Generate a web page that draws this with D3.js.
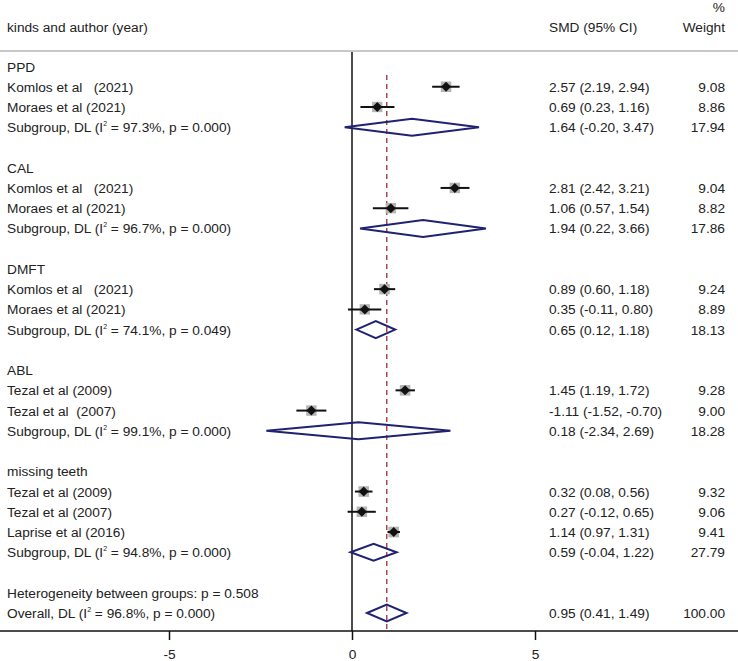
<!DOCTYPE html>
<html>
<head>
<meta charset="utf-8">
<script src="https://cdn.jsdelivr.net/npm/d3@7"></script>
<style>
  body { margin: 0; background: #fff; }
  text { font-family: "Liberation Sans", Arial, sans-serif; font-size: 13.7px; fill: #222; }
</style>
</head>
<body>
<div id="chart"></div>
<script>
// rows of the forest plot, top to bottom
const labels = [
  "PPD", "Komlos et al   (2021)", "Moraes et al (2021)", "Subgroup",
  "",
  "CAL", "Komlos et al   (2021)", "Moraes et al (2021)", "Subgroup",
  "",
  "DMFT", "Komlos et al   (2021)", "Moraes et al (2021)", "Subgroup",
  "",
  "ABL", "Tezal et al (2009)", "Tezal et al  (2007)", "Subgroup",
  "",
  "missing teeth", "Tezal et al (2009)", "Tezal et al (2007)", "Laprise et al (2016)", "Subgroup",
  "",
  "Heterogeneity between groups: p = 0.508", "Overall"
];
// row type: h = heading, s = study, d = subgroup diamond, o = overall diamond, t = text only
const kinds = ["h","s","s","d","t","h","s","s","d","t","h","s","s","d","t","h","s","s","d","t","h","s","s","s","d","t","t","o"];
const smd   = [null,2.57,0.69,1.64,null,null,2.81,1.06,1.94,null,null,0.89,0.35,0.65,null,null,1.45,-1.11,0.18,null,null,0.32,0.27,1.14,0.59,null,null,0.95];
const lower = [null,2.19,0.23,-0.20,null,null,2.42,0.57,0.22,null,null,0.60,-0.11,0.12,null,null,1.19,-1.52,-2.34,null,null,0.08,-0.12,0.97,-0.04,null,null,0.41];
const upper = [null,2.94,1.16,3.47,null,null,3.21,1.54,3.66,null,null,1.18,0.80,1.18,null,null,1.72,-0.70,2.69,null,null,0.56,0.65,1.31,1.22,null,null,1.49];
const weight = [null,9.08,8.86,17.94,null,null,9.04,8.82,17.86,null,null,9.24,8.89,18.13,null,null,9.28,9.00,18.28,null,null,9.32,9.06,9.41,27.79,null,null,100.00];
const i2    = [null,null,null,"97.3",null,null,null,null,"96.7",null,null,null,null,"74.1",null,null,null,null,"99.1",null,null,null,null,null,"94.8",null,null,"96.8"];
const pval  = [null,null,null,"0.000",null,null,null,null,"0.000",null,null,null,null,"0.049",null,null,null,null,"0.000",null,null,null,null,null,"0.000",null,null,"0.000"];
const xTicks = [-5, 0, 5];
const overallEffect = 0.95;

const width = 738, height = 661;
const rowTop = 66.5, rowStep = 20.24;
const headerLineY = 51;
const axisY = 631;

const svg = d3.select("#chart").append("svg")
    .attr("width", width)
    .attr("height", height);

const data = labels.map(function(l, i) {
  return {label: l, kind: kinds[i], est: smd[i], lo: lower[i], hi: upper[i], w: weight[i], i2: i2[i], p: pval[i]};
});

const xScale = d3.scaleLinear().domain([-5, 5]).range([169, 535]);
const yScale = d3.scaleLinear().domain([0, 1]).range([rowTop, rowTop + rowStep]);
const boxScale = d3.scaleSqrt().domain([0, 10]).range([0, 11]);

// plain hyphen for negatives, like the original
const f2 = function(v) { return v.toFixed(2); };

// header
svg.append("text").attr("x", 7).attr("y", 32).text("kinds and author (year)");
svg.append("text").attr("x", 549).attr("y", 32).text("SMD (95% CI)");
svg.append("text").attr("x", 725).attr("y", 12).attr("text-anchor", "end").text("%");
svg.append("text").attr("x", 725).attr("y", 32).attr("text-anchor", "end").text("Weight");
svg.append("line")
    .attr("x1", 0).attr("x2", width).attr("y1", headerLineY).attr("y2", headerLineY)
    .attr("stroke", "#c8c8c8").attr("stroke-width", 2);

// null line and overall line
svg.append("line")
    .attr("x1", xScale(0)).attr("x2", xScale(0)).attr("y1", headerLineY + 1).attr("y2", axisY)
    .attr("stroke", "#111").attr("stroke-width", 1.5);
svg.append("line")
    .attr("x1", xScale(overallEffect)).attr("x2", xScale(overallEffect)).attr("y1", 75).attr("y2", axisY)
    .attr("stroke", "#9b2d3c").attr("stroke-width", 1.3).attr("stroke-dasharray", "5,4");

// axis
const axis = svg.append("g")
    .attr("transform", `translate(0,${axisY})`)
    .call(d3.axisBottom(xScale).tickValues(xTicks).tickSize(9).tickPadding(9)
      .tickFormat(function(d) { return String(d); }));
axis.select(".domain").remove();
axis.selectAll(".tick line").attr("stroke", "#111").attr("stroke-width", 1.5);
axis.selectAll(".tick text").style("font-family", "Liberation Sans, Arial, sans-serif").style("font-size", "13.7px").attr("fill", "#222");
svg.append("line")
    .attr("x1", 0).attr("x2", width).attr("y1", axisY).attr("y2", axisY)
    .attr("stroke", "#111").attr("stroke-width", 1.5);

const rows = svg.selectAll("g.row")
  .data(data)
  .enter()
  .append("g")
    .attr("class", "row")
    .attr("transform", function(d, i) { return `translate(0,${yScale(i)})`; });

// left labels
const lbl = rows.append("text")
    .attr("x", 7)
    .attr("y", 5)
    .attr("xml:space", "preserve")
    .style("white-space", "pre");
lbl.filter(function(d) { return d.kind !== "d" && d.kind !== "o"; })
    .text(function(d) { return d.label; });
lbl.filter(function(d) { return d.kind === "d" || d.kind === "o"; })
  .each(function(d) {
    const t = d3.select(this);
    t.append("tspan").text(d.label + ", DL (I");
    t.append("tspan").attr("dy", -6).style("font-size", "7px").text("2");
    t.append("tspan").attr("dy", 6).text(" = " + d.i2 + "%, p = " + d.p + ")");
  });

// estimate + CI text and weights
const withEst = rows.filter(function(d) { return d.est !== null; });
withEst.append("text")
    .attr("x", 549).attr("y", 5)
    .text(function(d) { return f2(d.est) + " (" + f2(d.lo) + ", " + f2(d.hi) + ")"; });
withEst.append("text")
    .attr("x", 725).attr("y", 5).attr("text-anchor", "end")
    .text(function(d) { return f2(d.w); });

// studies: gray weight box, CI line, black diamond point
const studies = rows.filter(function(d) { return d.kind === "s"; });
studies.append("rect")
    .attr("x", function(d) { return xScale(d.est) - boxScale(d.w) / 2; })
    .attr("y", function(d) { return -boxScale(d.w) / 2; })
    .attr("width", function(d) { return boxScale(d.w); })
    .attr("height", function(d) { return boxScale(d.w); })
    .attr("fill", "#b4b4b4");
studies.append("line")
    .attr("x1", function(d) { return xScale(d.lo); })
    .attr("x2", function(d) { return xScale(d.hi); })
    .attr("stroke", "#111").attr("stroke-width", 2);
studies.append("path")
    .attr("d", function(d) {
      const cx = xScale(d.est), r = 5;
      return `M${cx - r},0L${cx},${-r}L${cx + r},0L${cx},${r}Z`;
    })
    .attr("fill", "#111");

// pooled diamonds
rows.filter(function(d) { return d.kind === "d" || d.kind === "o"; })
  .append("path")
    .attr("d", function(d) {
      const h = 8.5;
      return `M${xScale(d.lo)},0L${xScale(d.est)},${-h}L${xScale(d.hi)},0L${xScale(d.est)},${h}Z`;
    })
    .attr("fill", "none")
    .attr("stroke", "#1f2270")
    .attr("stroke-width", 2);
</script>
</body>
</html>
